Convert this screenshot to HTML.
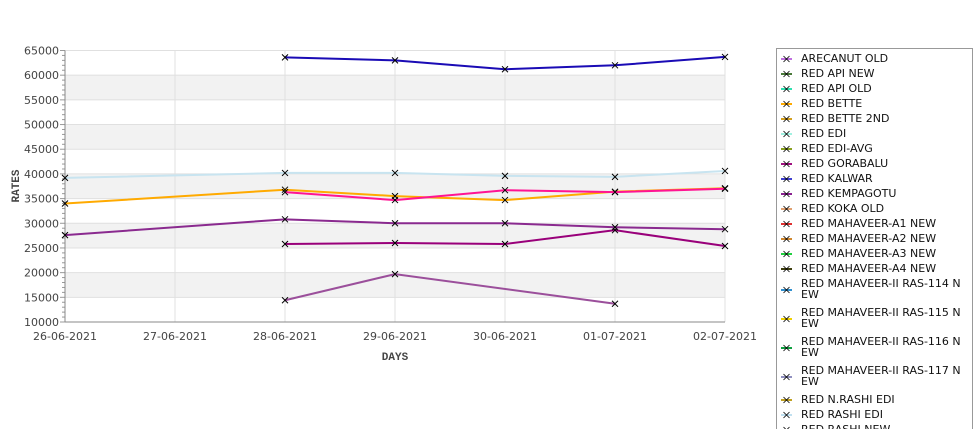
<!DOCTYPE html>
<html><head><meta charset="utf-8"><style>
body{margin:0;width:975px;height:429px;overflow:hidden;background:#fff;font-family:"DejaVu Sans","Liberation Sans",sans-serif;}
svg{position:absolute;left:0;top:0}
</style></head><body>
<svg id="chart" width="975" height="429" xmlns="http://www.w3.org/2000/svg"></svg>
<script>
const categories=["26-06-2021","27-06-2021","28-06-2021","29-06-2021","30-06-2021","01-07-2021","02-07-2021"];
const yTicks=[10000,15000,20000,25000,30000,35000,40000,45000,50000,55000,60000,65000];
const seriesBlue=[null,null,63600,63000,61200,62000,63700];
const seriesLightBlue=[39200,null,40200,40200,39600,39400,40600];
const seriesOrange=[34000,null,36800,35500,34700,36400,37100];
const seriesPink=[null,null,36300,34700,36700,36300,37000];
const seriesPurple=[27600,null,30800,30000,30000,29200,28800];
const seriesMagenta=[null,null,25800,26000,25800,28600,25400];
const seriesLilac=[null,null,14400,19700,null,13700,null];
const legendNames=["ARECANUT OLD","RED API NEW","RED API OLD","RED BETTE","RED BETTE 2ND","RED EDI","RED EDI-AVG","RED GORABALU","RED KALWAR","RED KEMPAGOTU","RED KOKA OLD","RED MAHAVEER-A1 NEW","RED MAHAVEER-A2 NEW","RED MAHAVEER-A3 NEW","RED MAHAVEER-A4 NEW","RED MAHAVEER-II RAS-114 N|EW","RED MAHAVEER-II RAS-115 N|EW","RED MAHAVEER-II RAS-116 N|EW","RED MAHAVEER-II RAS-117 N|EW","RED N.RASHI EDI","RED RASHI EDI","RED RASHI NEW"];
const legendColors=["#c070e0","#4a7a3a","#30e0b0","#ffaa00","#d4a020","#a0f0e0","#8aa020","#a01080","#4040d0","#8a2090","#e0a070","#e03030","#d08830","#20d040","#404010","#3090d0","#f0d000","#10a040","#9090c0","#c0a020","#c0e0f0","#b0b0b0"];

const NS="http://www.w3.org/2000/svg";
const svg=document.getElementById('chart');
const L=65,R=725,T=50.5,B=322;
const ymin=10000,ymax=65000;
function xs(i){return L+i*(R-L)/(categories.length-1);}
function ys(v){return B-(v-ymin)/(ymax-ymin)*(B-T);}
function mk(tag,attrs,parent){const e=document.createElementNS(NS,tag);for(const k in attrs)e.setAttribute(k,attrs[k]);(parent||svg).appendChild(e);return e;}

// bands
for(let i=0;i<yTicks.length-1;i++){
  if(i%2===1){const r=mk('rect',{x:L,y:ys(yTicks[i+1]),width:R-L,height:ys(yTicks[i])-ys(yTicks[i+1]),fill:'#f2f2f2'});
  
  }
}
yTicks.forEach(v=>{
  const g=mk('line',{x1:L,x2:R,y1:ys(v),y2:ys(v),stroke:'#e0e0e0','stroke-width':1});
  
  
  const t=mk('text',{x:L-6,y:ys(v)+4,'text-anchor':'end','font-size':11,fill:'#444'});
  t.textContent=v;
  
  
});
// minor ticks
for(let v=ymin;v<=ymax;v+=1000){mk('line',{x1:L-(v%5000===0?5:3),x2:L,y1:ys(v),y2:ys(v),stroke:'#999','stroke-width':1});}
categories.forEach((c,i)=>{
  const g=mk('line',{x1:xs(i),x2:xs(i),y1:T,y2:B,stroke:'#e0e0e0','stroke-width':1});
  
  
  const t=mk('text',{x:xs(i),y:B+18,'text-anchor':'middle','font-size':11,fill:'#444'});
  t.textContent=c;
  
  
});
mk('line',{x1:L,x2:L,y1:T,y2:B,stroke:'#888'});
mk('line',{x1:L,x2:R,y1:B,y2:B,stroke:'#888'});
const xt=mk('text',{x:(L+R)/2,y:360,'text-anchor':'middle','font-size':11,'font-weight':'bold',fill:'#444','font-family':'Liberation Mono, monospace'});
xt.textContent='DAYS';


const yt=mk('text',{x:0,y:0,transform:'translate(19,186) rotate(-90)','text-anchor':'middle','font-size':11,'font-weight':'bold',fill:'#444','font-family':'Liberation Mono, monospace'});
yt.textContent='RATES';



const allSeries=[[seriesLilac,'#9b4f9b','red-koka-series'],[seriesMagenta,'#99007a','red-gorabalu-series'],[seriesPurple,'#8a2a8f','red-kempagotu-series'],[seriesLightBlue,'#c8e4f0','red-rashi-edi-series'],[seriesOrange,'#ffaa00','red-bette-series'],[seriesPink,'#ff1493','red-mahaveer-series'],[seriesBlue,'#1a0bb5','red-kalwar-series']];
allSeries.forEach(([data,col,name])=>{
  const pts=[];data.forEach((v,i)=>{if(v!==null)pts.push([xs(i),ys(v)]);});
  const p=mk('polyline',{points:pts.map(p=>p.join(',')).join(' '),fill:'none',stroke:col,'stroke-width':2});
  
  
  pts.forEach(([x,y])=>{
    const m=mk('path',{d:`M${x-3},${y-3}L${x+3},${y+3}M${x-3},${y+3}L${x+3},${y-3}`,stroke:'#000','stroke-width':1});
    
    
  });
});

// legend
const lg=mk('g',{});


mk('rect',{x:776.5,y:48.5,width:196,height:400,fill:'#fff',stroke:'#999'},lg);
let ly=58;
legendNames.forEach((n,i)=>{
  const parts=n.split('|');
  const cy=parts.length>1?ly+6:ly;
  const g=mk('g',{},lg);
  
  
  mk('line',{x1:781,x2:792,y1:cy+1,y2:cy+1,stroke:legendColors[i],'stroke-width':2},g);
  mk('path',{d:`M${783.5},${cy-2}L${789.5},${cy+4}M${783.5},${cy+4}L${789.5},${cy-2}`,stroke:'#000','stroke-width':0.8},g);
  parts.forEach((p,j)=>{
    const t=mk('text',{x:801,y:ly+4+j*11,'font-size':11,fill:'#111'},g);
    t.textContent=p;
  });
  ly+=parts.length>1?29:15;
});
</script>
</body></html>
